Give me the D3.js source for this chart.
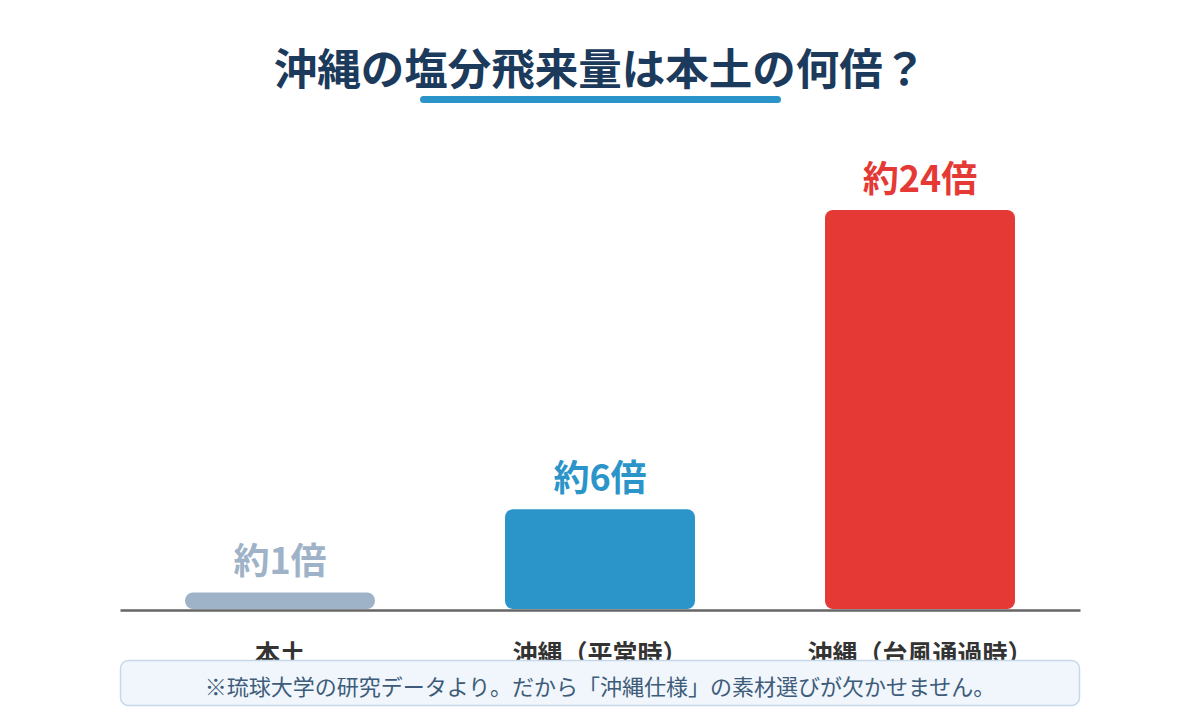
<!DOCTYPE html>
<html><head><meta charset="utf-8">
<script src="https://cdn.jsdelivr.net/npm/d3@7/dist/d3.min.js"></script>
<style>
html,body{margin:0;padding:0;background:#fff;}
svg{display:block;font-family:"Noto Sans CJK JP","Noto Sans",sans-serif;}
</style></head>
<body>
<svg id="c" width="1200" height="720"></svg>
<script>
const titleText = "沖縄の塩分飛来量は本土の何倍？";
const categories = ["本土", "沖縄（平常時）", "沖縄（台風通過時）"];
const values = [1, 6, 24];
const valueLabels = ["約1倍", "約6倍", "約24倍"];
const barColors = ["#9fb3c8", "#2b95c9", "#e53935"];
const noteText = "※琉球大学の研究データより。だから「沖縄仕様」の素材選びが欠かせません。";

const svg = d3.select("#c");
const W = 1200;
const left = 120, right = 1080, baseY = 609, topY = 210;

const x = d3.scaleBand().domain(categories).range([left, right])
  .paddingInner(0.40625).paddingOuter(0.203125);
const y = d3.scaleLinear().domain([0, d3.max(values)]).range([baseY, topY]);

// title
svg.append("text").attr("x", W/2).attr("y", 85).attr("text-anchor","middle")
  .attr("font-size", 43.5).attr("font-weight", 700).attr("fill", "#1b3a5c").text(titleText);
svg.append("rect").attr("x", 420).attr("y", 96).attr("width", 361).attr("height", 7)
  .attr("rx", 3.5).attr("fill", "#2b95c9");

const data = categories.map((c,i)=>({c, v: values[i], l: valueLabels[i], col: barColors[i]}));

svg.selectAll("rect.bar").data(data).join("rect").attr("class","bar")
  .attr("x", d=>x(d.c)).attr("width", x.bandwidth())
  .attr("y", d=>y(d.v)).attr("height", d=>baseY - y(d.v))
  .attr("rx", 8).attr("fill", d=>d.col);

svg.selectAll("text.val").data(data).join("text").attr("class","val")
  .attr("x", d=>x(d.c)+x.bandwidth()/2).attr("y", d=>y(d.v)-18)
  .attr("text-anchor","middle").attr("font-size", 36).attr("font-weight",700)
  .attr("fill", d=>d.col).text(d=>d.l);

// axis
const axis = svg.append("g").attr("transform", `translate(0,${baseY+1})`)
  .call(d3.axisBottom(x).tickSize(0).tickPadding(0));
axis.select(".domain").attr("stroke","#666").attr("stroke-width",2.5);
axis.selectAll(".tick text").attr("font-size", 25).attr("font-weight",700)
  .attr("fill","#333").attr("font-family","'Noto Sans CJK JP',sans-serif")
  .attr("dy", null).attr("y", 53);

// note box
svg.append("rect").attr("x", 120.5).attr("y", 660.5).attr("width", 959).attr("height", 45)
  .attr("rx", 8).attr("fill", "#f0f6fb").attr("stroke", "#c6d9ea").attr("stroke-width", 1.5);
svg.append("text").attr("x", W/2).attr("y", 695).attr("text-anchor","middle")
  .attr("font-size", 22).attr("fill", "#3e5c7a").text(noteText);
</script>
</body></html>
